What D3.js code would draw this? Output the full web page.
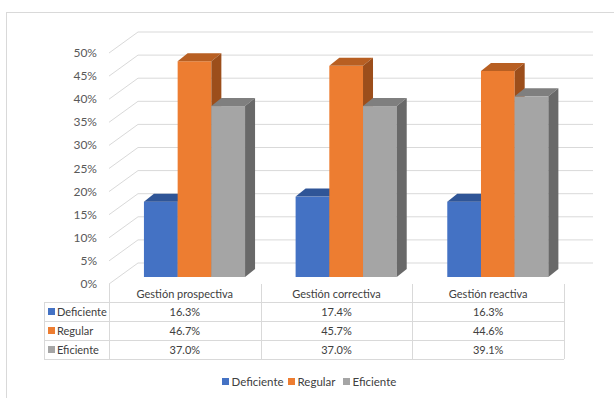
<!DOCTYPE html>
<html lang="es">
<head>
<meta charset="utf-8">
<title></title>
<script src="https://d3js.org/d3.v7.min.js"></script>
<style>
  body { margin: 0; background: #fff; }
  text { font-family: Lato, "Open Sans", sans-serif; }
</style>
</head>
<body>
<div id="chart"></div>
<script>
// data
var categories = ["Gestión prospectiva", "Gestión correctiva", "Gestión reactiva"];
var seriesNames = ["Deficiente", "Regular", "Eficiente"];
var deficiente = [16.3, 17.4, 16.3];
var regular = [46.7, 45.7, 44.6];
var eficiente = [37.0, 37.0, 39.1];
var yTicks = [0, 5, 10, 15, 20, 25, 30, 35, 40, 45, 50];

var series = [deficiente, regular, eficiente];
var colors = ["#4472C4", "#ED7D31", "#A5A5A5"];
var topColors = ["#2F5597", "#B85F22", "#7F7F7F"];
var sideColors = ["#2A4B85", "#9C4E1B", "#696969"];

var W = 614, H = 398;
var svg = d3.select("#chart").append("svg")
  .attr("width", W).attr("height", H);

// chart border
svg.append("rect")
  .attr("x", 6.5).attr("y", 12.5)
  .attr("width", 620).attr("height", 400)
  .attr("fill", "none").attr("stroke", "#d9d9d9");

// front plane scales, plus depth offset for the 3d walls
var x = d3.scaleBand().domain(categories).range([109, 564]);
var y = d3.scaleLinear().domain([0, 50]).range([284, 53]);
var DX = 29, DY = -21;

var xs = d3.scaleBand().domain(seriesNames)
  .range([x.bandwidth() / 6, x.bandwidth() * 5 / 6]);

// gridlines: side wall diagonal + back wall
var grid = svg.append("g").attr("stroke", "#d9d9d9").attr("fill", "none");
yTicks.forEach(function(t) {
  var yf = y(t);
  grid.append("path")
    .attr("d", "M" + 109 + "," + yf + "L" + (109 + DX) + "," + (yf + DY) + "L" + (564 + DX) + "," + (yf + DY));
});

// y axis labels
svg.append("g")
  .selectAll("text")
  .data(yTicks)
  .enter().append("text")
  .attr("x", 97)
  .attr("y", function(d) { return y(d) + 4; })
  .attr("text-anchor", "end")
  .attr("font-size", 12)
  .attr("fill", "#595959")
  .text(function(d) { return d + "%"; });

// bars
var d0 = 1 / 3;
var bdx = 10, bdy = -8;
var base = y(0) + d0 * DY;
var k = (y(0) - y(1));
var bars = svg.append("g");
categories.forEach(function(c, ci) {
  seriesNames.forEach(function(s, si) {
    var v = series[si][ci];
    var x0 = x(c) + xs(s) + d0 * DX;
    var x1 = x0 + xs.bandwidth();
    var yt = base - v * k;
    // front
    bars.append("rect")
      .attr("x", x0).attr("y", yt)
      .attr("width", xs.bandwidth()).attr("height", base - yt)
      .attr("fill", colors[si]);
    // top
    bars.append("path")
      .attr("d", "M" + x0 + "," + yt + "L" + (x0 + bdx) + "," + (yt + bdy) +
        "L" + (x1 + bdx) + "," + (yt + bdy) + "L" + x1 + "," + yt + "Z")
      .attr("fill", topColors[si]);
    // side
    bars.append("path")
      .attr("d", "M" + x1 + "," + yt + "L" + (x1 + bdx) + "," + (yt + bdy) +
        "L" + (x1 + bdx) + "," + (base + bdy) + "L" + x1 + "," + base + "Z")
      .attr("fill", sideColors[si]);
  });
});

// data table
var rowY = [284, 302, 321, 340, 359];
var tbl = svg.append("g").attr("stroke", "#d9d9d9").attr("fill", "none");
[302, 321, 340, 359].forEach(function(ry) {
  tbl.append("line").attr("x1", 44).attr("x2", 564).attr("y1", ry + 0.5).attr("y2", ry + 0.5);
});
tbl.append("line").attr("x1", 44.5).attr("x2", 44.5).attr("y1", 302).attr("y2", 359);
x.domain().concat([null]).forEach(function(c) {
  var lx = c === null ? 564 : x(c);
  tbl.append("line").attr("x1", Math.round(lx) + 0.5).attr("x2", Math.round(lx) + 0.5)
    .attr("y1", 284).attr("y2", 359);
});

var txt = svg.append("g").attr("font-size", 11).attr("fill", "#404040");
categories.forEach(function(c) {
  txt.append("text")
    .attr("x", x(c) + x.bandwidth() / 2).attr("y", 297.5)
    .attr("text-anchor", "middle").text(c);
});
seriesNames.forEach(function(s, si) {
  var cy = (rowY[si + 1] + rowY[si + 2]) / 2;
  txt.append("rect")
    .attr("x", 48).attr("y", cy - 3.5).attr("width", 7).attr("height", 7)
    .attr("fill", colors[si]);
  txt.append("text").attr("x", 57).attr("y", cy + 4).text(s);
  categories.forEach(function(c, ci) {
    txt.append("text")
      .attr("x", x(c) + x.bandwidth() / 2).attr("y", cy + 4)
      .attr("text-anchor", "middle")
      .text(series[si][ci].toFixed(1) + "%");
  });
});

// legend
var legX = [222, 288, 343];
var leg = svg.append("g").attr("font-size", 11.5).attr("fill", "#404040");
seriesNames.forEach(function(s, si) {
  leg.append("rect")
    .attr("x", legX[si]).attr("y", 378).attr("width", 7).attr("height", 7)
    .attr("fill", colors[si]);
  leg.append("text").attr("x", legX[si] + 9.5).attr("y", 385.5).text(s);
});
</script>
</body>
</html>
